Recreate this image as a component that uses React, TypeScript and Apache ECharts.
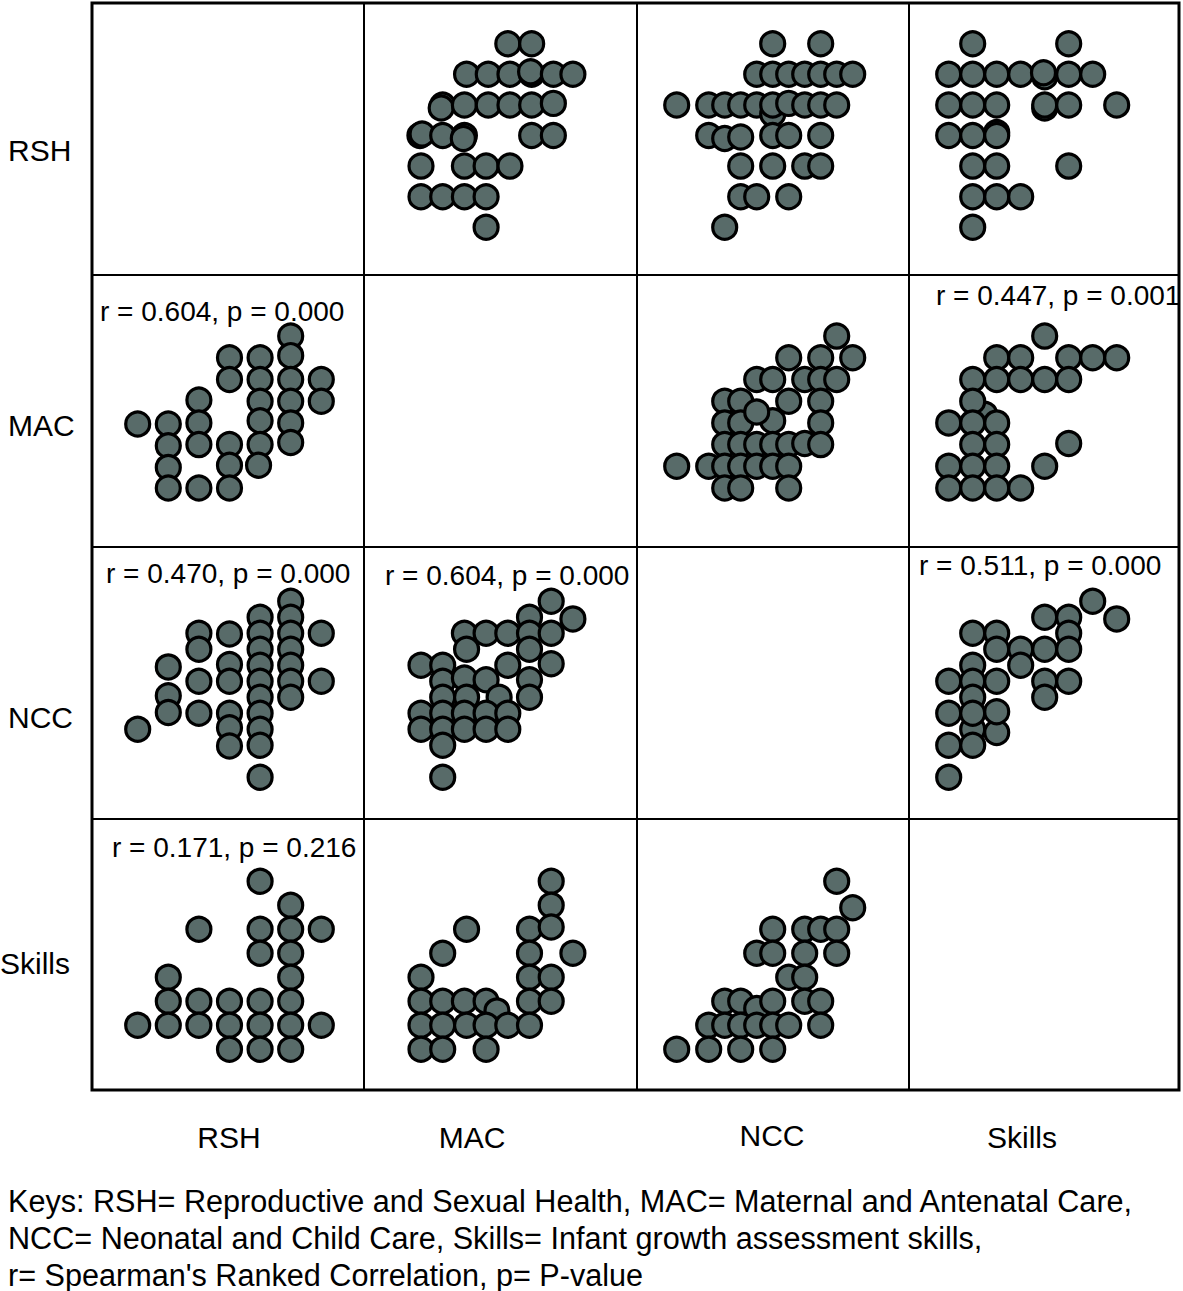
import React, { useEffect, useRef } from "react";
import * as echarts from "echarts";

// Variables and their (arbitrary score-level) axis ranges
const variables = ["RSH", "MAC", "NCC", "Skills"];
const axisMin = [-0.526, -1.673, -1.544, -0.696];
const axisMax = [8.363, 10.862, 15.456, 10.638];

// Each array: [x value (column variable), y value (row variable)]
const rshByMac = [
  [5, 7], [6.1, 7],
  [3.1, 6], [4.1, 6], [5.1, 6], [6.1, 6], [6.05, 6.08], [7.1, 6], [8, 6],
  [2, 5], [1.93, 4.9], [3, 5], [4.1, 5], [5.1, 5], [6.1, 5], [7.1, 5.05],
  [0.95, 4], [1.05, 4.05], [2, 4], [3, 4], [2.95, 3.9], [6.1, 4], [7.1, 4],
  [1, 3], [3, 3], [4, 3], [5.1, 3],
  [1, 2], [2, 2], [3, 2], [4, 2],
  [4, 1],
];
const rshByNcc = [
  [7, 7], [10, 7],
  [6, 6], [7, 6], [8, 6], [9, 6], [10, 6], [11, 6], [12, 6],
  [1, 5], [3, 5], [4, 5], [5, 5], [6, 5], [7, 4.7], [7, 5], [8, 5.05], [9, 5], [10, 5], [11, 5],
  [3, 4], [4, 3.9], [5, 3.95], [7, 4], [8, 4], [10, 4],
  [5, 3], [7, 3], [9, 3], [10, 3],
  [5, 2], [6, 2], [8, 2],
  [4, 1],
];
const rshBySkills = [
  [2, 7], [6, 7],
  [1, 6], [2, 6], [3, 6], [4, 6], [5, 5.92], [4.95, 6.05], [6, 6], [7, 6],
  [1, 5], [2, 5], [3, 5], [5, 4.9], [5, 5], [6, 5], [8, 5],
  [1, 4], [2, 4], [3, 4.1], [3, 4],
  [2, 3], [3, 3], [6, 3],
  [2, 2], [3, 2], [4, 2],
  [2, 1],
];
const macByRsh = [
  [1, 3.95],
  [2, 3.95], [2, 2.95], [2, 1.95], [2, 1],
  [3, 5.05], [3, 4], [3, 3], [3, 1],
  [4, 3], [4, 2.05], [4, 1], [4, 7], [4, 6],
  [5, 7], [5, 6], [5, 5], [5, 4.1], [5, 3], [4.95, 2.05],
  [6, 8], [6, 7.1], [6, 6], [6, 5], [6, 4], [6, 3.1],
  [7, 6], [7, 5],
];
const macByNcc = [
  [11, 8],
  [8, 7], [10, 7], [12, 7],
  [6, 6], [7, 6], [9, 6], [10, 6], [11, 6],
  [4, 5], [5, 5], [8, 5], [10, 5],
  [4, 4], [5, 4], [7, 4.1], [10, 4], [6, 4.5],
  [4, 3], [5, 3], [6, 3], [7, 3], [8, 3], [9, 3.05], [10, 3],
  [1, 2], [3, 2], [4, 2], [5, 2], [6, 2], [7, 2], [8, 2],
  [4, 1], [5, 1], [8, 1],
];
const macBySkills = [
  [5, 8],
  [3, 7], [4, 7], [6, 7], [7, 7], [8, 7],
  [2, 6], [3, 6], [4, 6], [5, 6], [6, 6],
  [2.5, 4.4], [2, 5],
  [1, 4], [2, 4], [3, 4],
  [2, 3], [3, 3], [6, 3.05],
  [1, 2], [2, 2], [3, 2], [5, 2],
  [1, 1], [2, 1], [3, 1], [4, 1],
];
const nccByRsh = [
  [1, 4],
  [2, 7.9], [2, 6.1], [2, 5.05],
  [3, 10], [3, 9], [3, 7], [3, 5],
  [4, 9.95], [4, 8.05], [4, 7], [4, 5], [4, 4.1], [4, 2.95],
  [5, 11], [5, 10], [5, 9], [5, 8], [5, 7], [5, 6], [5, 5], [5, 4], [5, 3], [5, 1],
  [6, 12], [6, 11], [6, 10], [6, 9], [6, 8], [6, 7], [6, 6],
  [7, 10], [7, 7],
];
const nccByMac = [
  [7, 12],
  [6, 11], [8, 10.9],
  [3, 10], [4, 10], [5, 10], [6, 10], [7, 10],
  [3.1, 9], [6, 9],
  [1, 8], [2, 8], [5, 8], [7, 8.1],
  [2, 7], [3, 7.2], [4, 7.1], [6, 7.1],
  [2, 6], [3.1, 6], [4.6, 6], [6, 6],
  [1, 5], [2, 5], [3, 5], [4, 5], [5, 5],
  [1, 4], [2, 4], [3, 4], [4, 4], [5, 4],
  [2, 3],
  [2, 1],
];
const nccBySkills = [
  [7, 12],
  [5, 11], [6, 11], [8, 10.9],
  [2, 10], [3, 10], [6, 10],
  [3, 9], [4, 9], [5, 9], [6, 9],
  [2, 8], [4, 8],
  [1, 7], [2, 7], [3, 7], [5, 7], [6, 7],
  [2, 6], [5, 6],
  [2, 4], [3, 3.8],
  [1, 5], [2, 5], [3, 5.1],
  [1, 3], [2, 3],
  [1, 1],
];
const skillsByRsh = [
  [5, 8],
  [6, 7],
  [3, 6], [5, 6], [6, 6], [7, 6],
  [5, 5], [6, 5],
  [2, 4], [6, 4],
  [2, 3], [3, 3], [4, 3], [5, 3], [6, 3],
  [1, 2], [2, 2], [3, 2], [4, 2], [5, 2], [6, 2], [7, 2],
  [4, 1], [5, 1], [6, 1],
];
const skillsByMac = [
  [7, 8],
  [7, 7],
  [3.1, 6], [6, 6], [7, 6.1],
  [2, 5], [6, 5], [8, 5],
  [1, 4], [6, 4], [7, 4],
  [1, 3], [2, 3], [3, 3], [4, 3], [6, 3], [7, 3],
  [4.5, 2.6],
  [1, 2], [2, 2], [3.1, 2], [4, 2], [5, 2], [6, 2],
  [1, 1], [2, 1], [4, 1],
];
const skillsByNcc = [
  [11, 8],
  [12, 6.9],
  [7, 6], [9, 6], [10, 6], [11, 6],
  [6, 5], [7, 5], [9, 5], [11, 5],
  [8, 4], [9, 4],
  [4, 3], [5, 3], [6, 2.7], [7, 3], [9, 3], [10, 3],
  [3, 2], [4, 2], [5, 2], [6, 2], [7, 2], [8, 2], [10, 2],
  [1, 1], [3, 1], [5, 1], [7, 1],
];

// [row, col, data]
const cells: [number, number, number[][]][] = [
  [0, 1, rshByMac], [0, 2, rshByNcc], [0, 3, rshBySkills],
  [1, 0, macByRsh], [1, 2, macByNcc], [1, 3, macBySkills],
  [2, 0, nccByRsh], [2, 1, nccByMac], [2, 3, nccBySkills],
  [3, 0, skillsByRsh], [3, 1, skillsByMac], [3, 2, skillsByNcc],
];

const corrTexts = [
  "r = 0.604, p = 0.000",
  "r = 0.447, p = 0.001",
  "r = 0.470, p = 0.000",
  "r = 0.604, p = 0.000",
  "r = 0.511, p = 0.000",
  "r = 0.171, p = 0.216",
];
const keyLines = [
  "Keys: RSH= Reproductive and Sexual Health, MAC= Maternal and Antenatal Care,",
  "NCC= Neonatal and Child Care, Skills= Infant growth assessment skills,",
  "r= Spearman's Ranked Correlation, p= P-value",
];

const FONT = "'Liberation Sans', Arial, Helvetica, sans-serif";

export default function App() {
  const ref = useRef<HTMLDivElement>(null);
  useEffect(() => {
    if (!ref.current) return;
    const chart = echarts.init(ref.current, undefined, { renderer: "svg" });

    const colLeft = [91, 363, 636, 908];
    const rowTop = [2, 274, 546, 818];
    const size = 272;

    const grid: any[] = [];
    const xAxis: any[] = [];
    const yAxis: any[] = [];
    const series: any[] = [];
    cells.forEach(([r, c, data], i) => {
      grid.push({ left: colLeft[c], top: rowTop[r], width: size, height: size, show: false });
      xAxis.push({ type: "value", gridIndex: i, min: axisMin[c], max: axisMax[c], show: false });
      yAxis.push({ type: "value", gridIndex: i, min: axisMin[r], max: axisMax[r], show: false });
      series.push({
        type: "scatter",
        xAxisIndex: i,
        yAxisIndex: i,
        data,
        symbol: "circle",
        symbolSize: 24,
        clip: false,
        silent: true,
        itemStyle: { color: "#586b69", borderColor: "#000", borderWidth: 3.2, opacity: 1 },
      });
    });

    const graphic: any[] = [];
    // borders
    graphic.push({
      type: "rect",
      shape: { x: 92, y: 3, width: 1087, height: 1087 },
      style: { fill: "none", stroke: "#000", lineWidth: 3 },
      z: 10,
    });
    [364, 637, 909].forEach((x) =>
      graphic.push({ type: "line", shape: { x1: x, y1: 3, x2: x, y2: 1090 }, style: { stroke: "#000", lineWidth: 2 }, z: 10 })
    );
    [275, 547, 819].forEach((y) =>
      graphic.push({ type: "line", shape: { x1: 92, y1: y, x2: 1179, y2: y }, style: { stroke: "#000", lineWidth: 2 }, z: 10 })
    );

    const txt = (text: string, x: number, y: number, size: number, align = "left") => ({
      type: "text",
      x,
      y,
      z: 20,
      style: {
        text,
        fill: "#000",
        fontSize: size,
        fontFamily: FONT,
        align,
        verticalAlign: "middle",
      },
    });

    // row labels
    const rowLabelPos = [[8, 150], [8, 425], [8, 717], [0, 963]];
    variables.forEach((v, i) => graphic.push(txt(v, rowLabelPos[i][0], rowLabelPos[i][1], 30)));
    // column labels
    const colLabelPos = [[229, 1137], [472, 1137], [772, 1135], [1022, 1137]];
    variables.forEach((v, i) => graphic.push(txt(v, colLabelPos[i][0], colLabelPos[i][1], 30, "center")));
    // correlations
    const corrPos = [[100, 311], [936, 295], [106, 573], [385, 575], [919, 565], [112, 847]];
    corrTexts.forEach((t, i) => graphic.push(txt(t, corrPos[i][0], corrPos[i][1], 28)));
    // keys
    keyLines.forEach((t, i) => graphic.push(txt(t, 8, 1201 + i * 37, 30.6)));

    chart.setOption({
      animation: false,
      backgroundColor: "#fff",
      grid,
      xAxis,
      yAxis,
      series,
      graphic,
    });
    return () => chart.dispose();
  }, []);
  return (
    <div
      ref={ref}
      style={{ position: "absolute", left: 0, top: 0, width: 1183, height: 1291 }}
    />
  );
}
